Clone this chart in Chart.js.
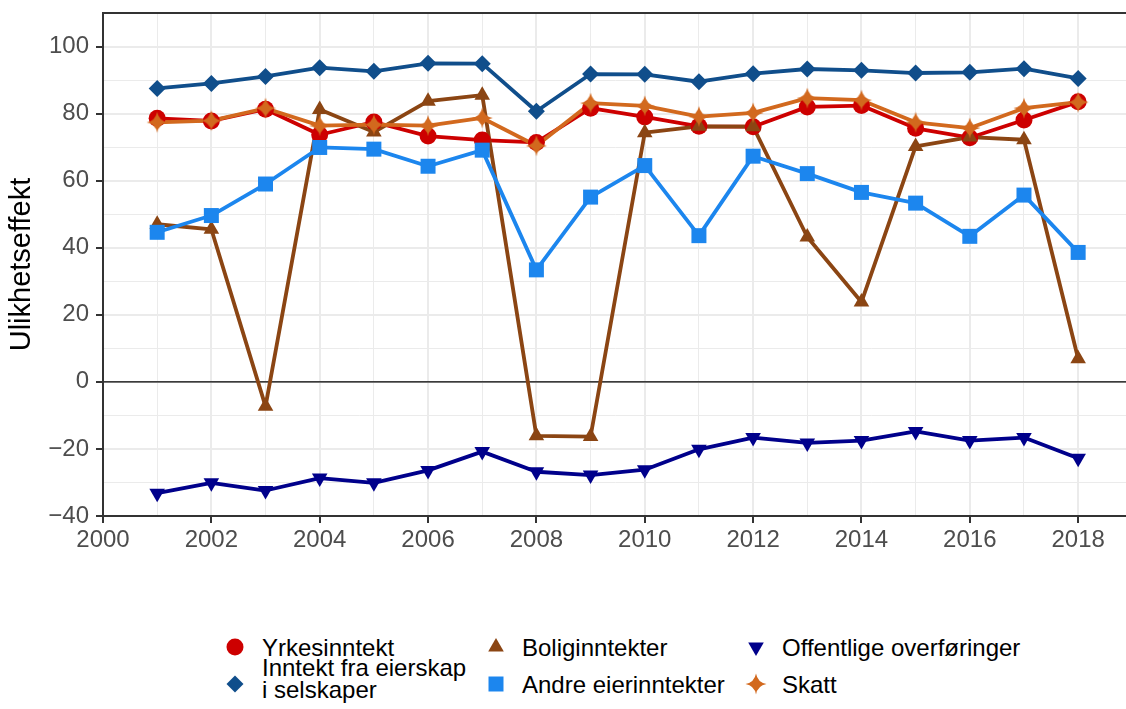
<!DOCTYPE html>
<html>
<head>
<meta charset="utf-8">
<script src="https://cdn.jsdelivr.net/npm/chart.js@4.4.1/dist/chart.umd.min.js"></script>
<style>
  html, body { margin: 0; padding: 0; background: #fff; overflow: hidden; }
  #wrap { position: relative; width: 1126px; height: 709px; overflow: hidden; }
  #chart { position: absolute; left: 0; top: 0; }
  .lg { position: absolute; font: 24px 'Liberation Sans'; color: #000; line-height: 22px; white-space: pre; }
  .mk { position: absolute; }
</style>
</head>
<body>
<div id="wrap">
  <canvas id="chart" width="1140" height="600"></canvas>
  <div id="legend"></div>
</div>
<script>
// data
const years = [2001, 2002, 2003, 2004, 2005, 2006, 2007, 2008, 2009, 2010, 2011, 2012, 2013, 2014, 2015, 2016, 2017, 2018];
const yrkesinntekt = [78.6, 77.8, 81.3, 73.7, 77.5, 73.3, 72.1, 71.4, 81.6, 79.0, 76.2, 76.1, 82.0, 82.4, 75.6, 72.8, 78.1, 83.5];
const eierskap = [87.5, 89.0, 91.1, 93.7, 92.6, 95.0, 94.9, 80.7, 91.8, 91.7, 89.5, 91.9, 93.3, 92.9, 92.1, 92.3, 93.4, 90.5];
const boliginntekter = [47.0, 45.5, -7.3, 81.2, 74.5, 83.7, 85.5, -16.1, -16.3, 74.3, 76.2, 76.1, 43.2, 23.8, 70.2, 73.0, 72.2, 6.9];
const andreEier = [44.6, 49.6, 59.0, 69.9, 69.4, 64.3, 69.1, 33.4, 55.1, 64.5, 43.6, 67.3, 62.1, 56.5, 53.3, 43.4, 55.7, 38.6];
const offentlige = [-33.2, -30.1, -32.4, -28.7, -30.1, -26.4, -20.8, -26.8, -27.8, -26.2, -20.1, -16.6, -18.2, -17.5, -14.8, -17.5, -16.6, -22.8];
const skatt = [77.4, 77.9, 81.6, 76.4, 76.7, 76.4, 78.7, 70.4, 83.1, 82.3, 79.1, 80.2, 84.6, 84.0, 77.4, 75.7, 81.6, 83.4];

const seriesNames = ['Yrkesinntekt', 'Inntekt fra eierskap\ni selskaper', 'Boliginntekter', 'Andre eierinntekter', 'Offentlige overføringer', 'Skatt'];
const seriesValues = [yrkesinntekt, eierskap, boliginntekter, andreEier, offentlige, skatt];
const yTickLabels = [-40, -20, 0, 20, 40, 60, 80, 100];
const xTickLabels = [2000, 2002, 2004, 2006, 2008, 2010, 2012, 2014, 2016, 2018];

const colors = ['#CD0000', '#104E8B', '#8B4513', '#1C86EE', '#00008B', '#D2691E'];
const shapes = ['circle', 'diamond', 'triUp', 'square', 'triDown', 'sparkle'];

function sparklePath(c, x, y, R, k) {
  c.beginPath();
  c.moveTo(x, y - R);
  c.quadraticCurveTo(x + k, y - k, x + R, y);
  c.quadraticCurveTo(x + k, y + k, x, y + R);
  c.quadraticCurveTo(x - k, y + k, x - R, y);
  c.quadraticCurveTo(x - k, y - k, x, y - R);
  c.closePath();
}

function drawMarker(c, shape, x, y, color) {
  c.fillStyle = color;
  c.beginPath();
  if (shape === 'circle') {
    c.arc(x, y, 8.5, 0, Math.PI * 2);
  } else if (shape === 'diamond') {
    c.moveTo(x, y - 8.5); c.lineTo(x + 8.5, y); c.lineTo(x, y + 8.5); c.lineTo(x - 8.5, y);
  } else if (shape === 'triUp') {
    c.moveTo(x, y - 9); c.lineTo(x + 7.8, y + 4.5); c.lineTo(x - 7.8, y + 4.5);
  } else if (shape === 'triDown') {
    c.moveTo(x, y + 9); c.lineTo(x + 7.8, y - 4.5); c.lineTo(x - 7.8, y - 4.5);
  } else if (shape === 'square') {
    c.rect(x - 7.5, y - 7.5, 15, 15);
  } else if (shape === 'sparkle') {
    sparklePath(c, x, y, 10.5, 1.6);
  }
  c.closePath();
  c.fill();
}

const sparkle = document.createElement('canvas');
sparkle.width = 24; sparkle.height = 24;
drawMarker(sparkle.getContext('2d'), 'sparkle', 12, 12, colors[5]);

const pointStyles = ['circle', 'rectRot', 'triangle', 'rect', 'triangle', sparkle];
const pointRadii = [8.5, 8.5, 9, 10.6, 9, 10];
const pointRot = [0, 0, 0, 0, 180, 0];

const datasets = [];
// lines first (underneath), then the points, series order as in ggplot
seriesValues.forEach((vals, i) => {
  datasets.push({
    data: years.map((yr, j) => ({ x: yr, y: vals[j] })),
    showLine: true,
    borderColor: colors[i],
    borderWidth: 3.8,
    borderJoinStyle: 'round',
    borderCapStyle: 'round',
    pointRadius: 0,
    fill: false,
    order: 20 + (5 - i)
  });
});
seriesValues.forEach((vals, i) => {
  datasets.push({
    data: years.map((yr, j) => ({ x: yr, y: vals[j] })),
    showLine: false,
    backgroundColor: colors[i],
    borderWidth: 0,
    pointStyle: pointStyles[i],
    pointRadius: pointRadii[i],
    pointRotation: pointRot[i],
    order: 5 - i
  });
});

const fmt = v => v < 0 ? '\u2212' + Math.abs(v) : String(v);

const framePlugin = {
  id: 'frame',
  beforeDatasetsDraw(chart) {
    const { ctx, chartArea: a, scales } = chart;
    const y0 = scales.y.getPixelForValue(0);
    ctx.save();
    ctx.strokeStyle = '#000';
    ctx.lineWidth = 1.1;
    ctx.beginPath();
    ctx.moveTo(a.left, y0); ctx.lineTo(a.right, y0);
    ctx.stroke();
    ctx.restore();
  },
  afterDatasetsDraw(chart) {
    const { ctx, chartArea: a } = chart;
    ctx.save();
    ctx.strokeStyle = '#333333';
    ctx.lineWidth = 2;
    ctx.strokeRect(a.left, a.top, a.right - a.left, a.bottom - a.top);
    ctx.restore();
  }
};

new Chart(document.getElementById('chart'), {
  type: 'scatter',
  data: { datasets },
  options: {
    responsive: false,
    animation: false,
    layout: { padding: { left: 0, top: 13, right: 12, bottom: 0 } },
    plugins: { legend: { display: false }, tooltip: { enabled: false } },
    scales: {
      x: {
        type: 'linear', min: 2000, max: 2018.92,
        border: { display: false },
        grid: {
          color: '#EBEBEB',
          lineWidth: c => (Math.round(c.tick.value) % 2 === 0 ? 2 : 1),
          tickColor: c => (xTickLabels.includes(Math.round(c.tick.value)) ? '#333333' : 'rgba(0,0,0,0)'),
          tickWidth: 2,
          tickLength: 7
        },
        ticks: {
          stepSize: 1, includeBounds: false, autoSkip: false, maxRotation: 0, minRotation: 0,
          padding: 3, color: '#4D4D4D', font: { family: 'Liberation Sans', size: 24 },
          callback: v => (xTickLabels.includes(Math.round(v)) ? String(Math.round(v)) : '')
        },
        afterFit: s => { s.height = 84; s.paddingLeft = 0; s.paddingRight = 0; }
      },
      y: {
        type: 'linear', min: -40, max: 110,
        border: { display: false },
        grid: {
          color: '#EBEBEB',
          lineWidth: c => (Math.round(c.tick.value) % 20 === 0 ? 2 : 1),
          tickColor: c => (yTickLabels.includes(Math.round(c.tick.value)) ? '#333333' : 'rgba(0,0,0,0)'),
          tickWidth: 2,
          tickLength: 7
        },
        ticks: {
          stepSize: 10, includeBounds: false, autoSkip: false,
          padding: 7, color: '#4D4D4D', font: { family: 'Liberation Sans', size: 24 },
          callback: v => (yTickLabels.includes(Math.round(v)) ? fmt(Math.round(v)) : '')
        },
        title: {
          display: true, text: 'Ulikhetseffekt', color: '#000',
          font: { family: 'Liberation Sans', size: 29 }, padding: { top: 5, bottom: 0 }
        },
        afterFit: s => { s.width = 103; s.paddingTop = 0; s.paddingBottom = 0; }
      }
    }
  },
  plugins: [framePlugin]
});

// legend, filled column-wise like the reference
const legendCols = [[235, 262], [496, 522], [756, 782]];
const legendRows = [647, 684];
const legend = document.getElementById('legend');
seriesNames.forEach((name, i) => {
  const col = legendCols[Math.floor(i / 2)];
  const rowY = legendRows[i % 2];
  const mk = document.createElement('canvas');
  mk.width = 26; mk.height = 26;
  mk.className = 'mk';
  mk.style.left = (col[0] - 13) + 'px';
  mk.style.top = (rowY - 13) + 'px';
  drawMarker(mk.getContext('2d'), shapes[i], 13, 13, colors[i]);
  legend.appendChild(mk);
  const t = document.createElement('div');
  t.className = 'lg';
  t.textContent = name;
  const lines = name.split('\n').length;
  t.style.left = col[1] + 'px';
  t.style.top = (rowY - 10 - (lines - 1) * 17) + 'px';
  legend.appendChild(t);
});
</script>
</body>
</html>
